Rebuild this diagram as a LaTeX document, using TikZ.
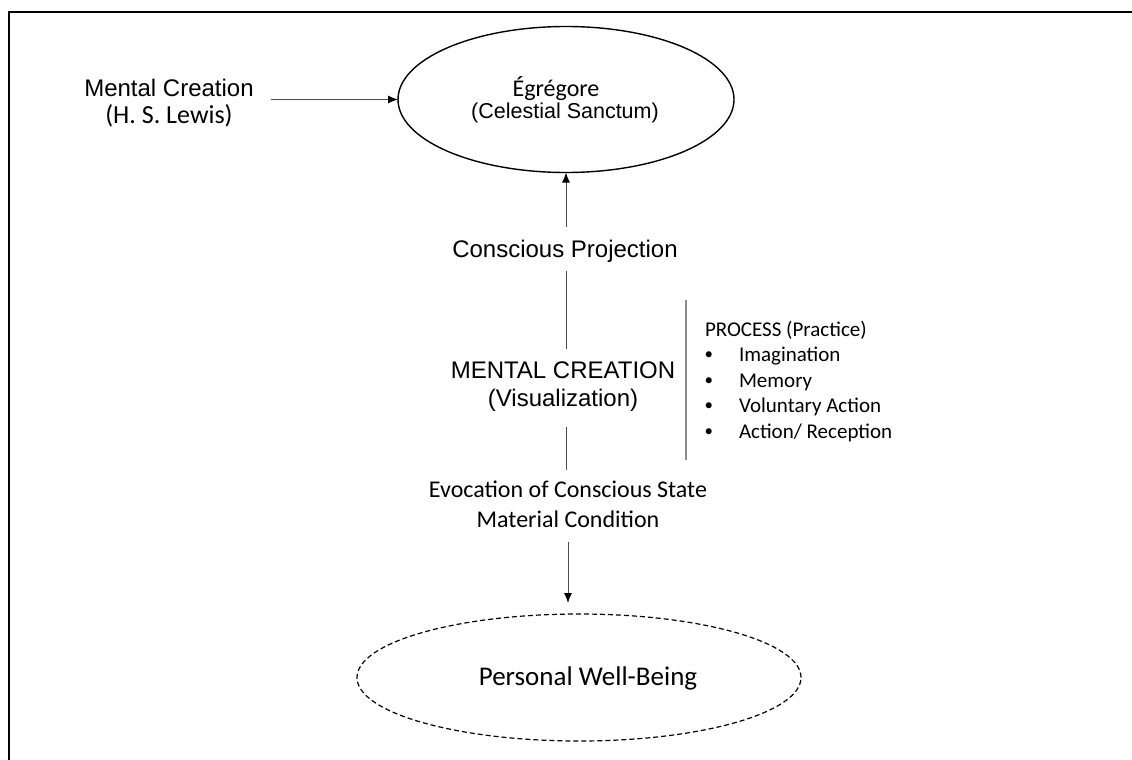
\documentclass[tikz,border=0pt]{standalone}
\usepackage{fontspec}
\setmainfont{Liberation Sans}
\newfontfamily\calibri{Carlito}
\usetikzlibrary{arrows.meta,shapes.geometric}

\begin{document}
\begin{tikzpicture}[x=1pt, y=-1pt,
	every node/.style={inner sep=0pt, outer sep=0pt},
	conn/.style={draw=black!70, line width=1pt},
	arr/.style={conn, -{Latex[length=10pt,width=8pt,color=black]}},
	bubble/.style={ellipse, draw=black, line width=1.4pt},
	sanstext/.style={font=\fontsize{24}{27}\selectfont, align=center},
	calitext/.style={font=\calibri\fontsize{24}{30}\selectfont, align=center},
	listtext/.style={font=\calibri\fontsize{21}{25}\selectfont, anchor=base west}]
	\useasboundingbox (0,0) rectangle (1132,760);
	\clip (0,0) rectangle (1132,760);
	% page frame
	\draw[line width=2pt] (8.5,780) -- (8.5,12.5) -- (1150,12.5);

	% egregore
	\node[bubble, minimum width=336pt, minimum height=146pt] (egregore) at (566,99.5) {};
	\node[font=\calibri\fontsize{24}{28}\selectfont, anchor=base] (egregore-name) at (556,96) {Égrégore};
	\node[font=\fontsize{21.5}{26}\selectfont, anchor=base] (sanctum) at (565,118) {(Celestial Sanctum)};

	% source on the left
	\node[sanstext] (mental) at (169,103) {Mental Creation\\{\calibri\fontsize{26}{27}\selectfont (H. S. Lewis)}};
	\draw[arr] ([xshift=17pt]egregore.west -| mental.east) -- (egregore.west);

	% main column
	\node[sanstext, anchor=base] (projection) at (565,257) {Conscious Projection};
	\node[sanstext, font=\fontsize{24}{28}\selectfont] (creation) at (563,387) {MENTAL CREATION\\(Visualization)};
	\node[calitext] (evocation) at (568,504.5) {Evocation of Conscious State\\Material Condition};

	\draw[arr, shorten <=13pt] (projection.north -| egregore.south) -- (egregore.south);
	\draw[conn, shorten <=9pt, shorten >=13pt] (projection.south -| egregore.south) -- (creation.north -| egregore.south);
	\draw[conn, shorten <=15pt, shorten >=11pt] (creation.south -| egregore.south) -- (evocation.north -| egregore.south);

	% process list
	\draw[draw=black!45, line width=1.3pt] (686,300) -- (686,460);
	\node[listtext] (process) at (705,336) {PROCESS (Practice)};
	\foreach \entry [count=\i] in {Imagination, Memory, Voluntary Action, Action/ Reception} {
		\node[listtext, font=\calibri\fontsize{17}{20}\selectfont] (bullet\i) at (704.5,334+25.6*\i) {•};
		\node[listtext] (entry\i) at (739,336+25.6*\i) {\entry};
	}

	% well-being
	\node[bubble, dashed, dash pattern=on 5pt off 3pt, line width=1.2pt, minimum width=444pt, minimum height=127pt] (wellbeing) at (579,677.5) {};
	\node[font=\calibri\fontsize{27}{30}\selectfont, anchor=base] (wellbeing-name) at (588,685) {Personal Well-Being};
	\draw[arr, shorten <=14pt, shorten >=11pt] (evocation.south) -- (evocation.south |- wellbeing.north);
\end{tikzpicture}
\end{document}
